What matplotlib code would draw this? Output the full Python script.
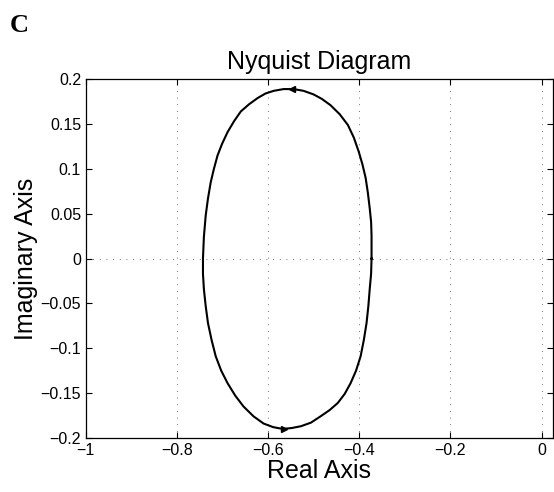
import numpy as np
import matplotlib.pyplot as plt

plt.rcParams['font.family'] = ['Liberation Sans', 'DejaVu Sans']

# Nyquist curve (counterclockwise, starting at the right)
re_vals = [-0.373, -0.373, -0.374, -0.377, -0.381, -0.386, -0.393, -0.401, -0.412,
           -0.425, -0.443, -0.463, -0.482, -0.500, -0.522, -0.544,
           -0.566, -0.588, -0.606, -0.623, -0.642, -0.660, -0.675, -0.689,
           -0.701, -0.711, -0.719, -0.726, -0.732, -0.737, -0.741, -0.743,
           -0.743, -0.741, -0.737, -0.732, -0.724, -0.715, -0.703, -0.689,
           -0.672, -0.654, -0.632, -0.610, -0.589, -0.568,
           -0.548, -0.528, -0.506, -0.485, -0.465, -0.447, -0.432, -0.419,
           -0.407, -0.397, -0.390, -0.384, -0.380, -0.377, -0.374, -0.373]
im_vals = [0.000, 0.026, 0.041, 0.056, 0.073, 0.090, 0.105, 0.119, 0.135,
           0.149, 0.161, 0.171, 0.178, 0.183, 0.187, 0.189,
           0.189, 0.187, 0.184, 0.179, 0.172, 0.164, 0.153, 0.141,
           0.128, 0.115, 0.100, 0.085, 0.067, 0.048, 0.024, 0.000,
           -0.017, -0.034, -0.053, -0.072, -0.091, -0.109, -0.125, -0.139,
           -0.153, -0.165, -0.176, -0.184, -0.188, -0.190,
           -0.189, -0.187, -0.183, -0.176, -0.169, -0.161, -0.151, -0.139,
           -0.125, -0.109, -0.091, -0.072, -0.053, -0.034, -0.017, 0.000]

# direction arrows
arrow_re = [-0.548, -0.566]
arrow_im = [0.189, -0.190]
arrow_dir = ['<', '>']

xticks = [-1, -0.8, -0.6, -0.4, -0.2, 0]
xtick_labels = ['\u22121', '\u22120.8', '\u22120.6', '\u22120.4', '\u22120.2', '0']
yticks = [-0.2, -0.15, -0.1, -0.05, 0, 0.05, 0.1, 0.15, 0.2]
ytick_labels = ['\u22120.2', '\u22120.15', '\u22120.1', '\u22120.05', '0',
                '0.05', '0.1', '0.15', '0.2']

fig = plt.figure(figsize=(5.54, 4.92), dpi=100)
ax = fig.add_axes([0.155, 0.110, 0.843, 0.729])

# sparse dotted grid like the printed MATLAB figure
for xv in xticks[1:]:
    ax.axvline(xv, color='0.25', lw=0.6, ls=(0, (1, 7)), zorder=1)
ax.axhline(0, color='0.25', lw=0.6, ls=(0, (1, 7)), zorder=1)

ax.plot(re_vals, im_vals, color='black', lw=1.5, solid_joinstyle='round', zorder=3)
for xa, ya, m in zip(arrow_re, arrow_im, arrow_dir):
    ax.plot([xa], [ya], marker=m, color='black', ms=5, zorder=4)

ax.set_xlim(-1, 0.025)
ax.set_ylim(-0.2, 0.2)
ax.set_xticks(xticks)
ax.set_xticklabels(xtick_labels)
ax.set_yticks(yticks)
ax.set_yticklabels(ytick_labels)
ax.tick_params(direction='in', top=True, right=True, labelsize=11.5, length=4, width=0.8)
for s in ax.spines.values():
    s.set_linewidth(0.9)

ax.set_title('Nyquist Diagram', fontsize=18, pad=7)
ax.set_xlabel('Real Axis', fontsize=18, labelpad=1)
ax.set_ylabel('Imaginary Axis', fontsize=18, labelpad=2)

fig.text(0.018, 0.935, 'C', fontsize=19, fontweight='bold', family='Liberation Serif')

fig.savefig('out.png', dpi=100)
plt.close(fig)
